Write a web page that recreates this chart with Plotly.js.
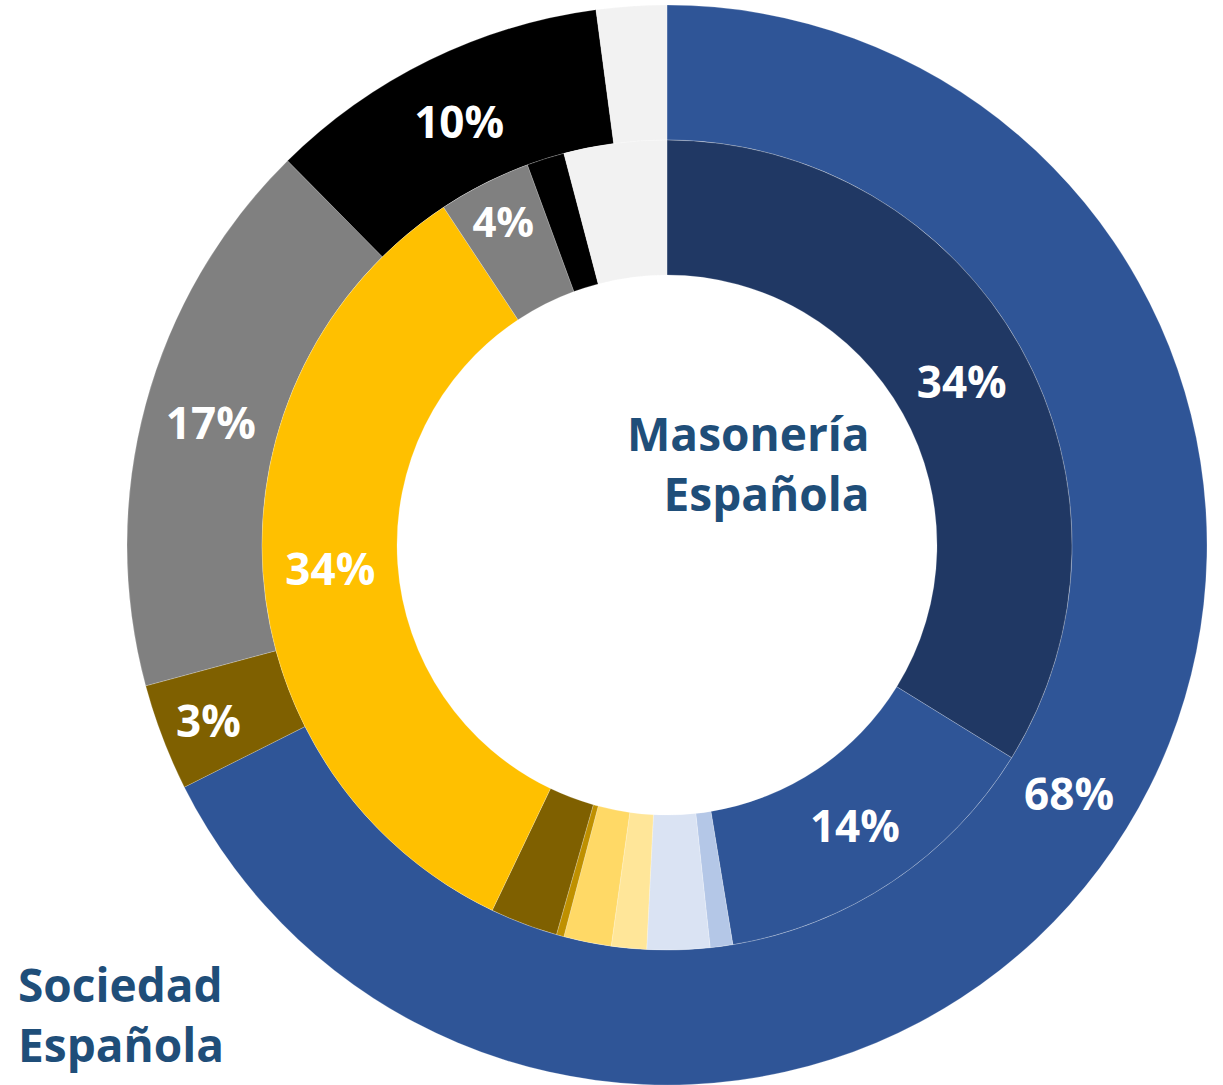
<!DOCTYPE html>
<html>
<head>
<meta charset="utf-8">
<script src="https://cdn.plot.ly/plotly-3.0.1.min.js"></script>
<style>
  html, body { margin: 0; padding: 0; background: #fff; }
  #chart { width: 1223px; height: 1085px; }
</style>
</head>
<body>
<div id="chart"></div>
<script>
// Outer ring: Sociedad Española
const outerLabels = ["Azul", "Marrón", "Gris", "Negro", "Sin dato"];
const outerValues = [67.6, 3.2, 16.8, 10.3, 2.1];
const outerColors = ["#2F5597", "#7F6000", "#808080", "#000000", "#F2F2F2"];

// Inner ring: Masonería Española
const innerLabels = ["Azul oscuro", "Azul", "Azul claro", "Azul muy claro", "Amarillo muy claro",
                     "Amarillo claro", "Oro oscuro", "Marrón", "Oro", "Gris", "Negro", "Sin dato"];
const innerValues = [33.8, 13.6, 0.9, 2.5, 1.4, 1.9, 0.3, 2.7, 33.6, 3.7, 1.5, 4.1];
const innerColors = ["#203864", "#2F5597", "#B4C7E7", "#DAE3F3", "#FFE699",
                     "#FFD966", "#BF9000", "#7F6000", "#FFC000", "#808080", "#000000", "#F2F2F2"];

const FONT = "'Open Sans', 'DejaVu Sans', sans-serif";

// only the bigger slices carry a label, never the "Sin dato" slice
function pctText(labels, values) {
    return values.map((v, i) => (v >= 3 && labels[i] !== 'Sin dato') ? Math.round(v) + '%' : '');
}

const W = 1223, H = 1085;

const outer = {
    type: 'pie',
    labels: outerLabels,
    values: outerValues,
    text: pctText(outerLabels, outerValues),
    textinfo: 'text',
    textposition: 'inside',
    insidetextorientation: 'horizontal',
    textfont: { family: FONT, size: 44, color: '#ffffff', weight: 'bold' },
    marker: { colors: outerColors, line: { color: 'rgba(255,255,255,0.35)', width: 0.6 } },
    hole: 0.75,
    sort: false,
    direction: 'clockwise',
    rotation: 0,
    hoverinfo: 'none',
    domain: { x: [127 / W, 1207 / W], y: [0, 1080 / H] }
};

const inner = {
    type: 'pie',
    labels: innerLabels,
    values: innerValues,
    text: pctText(innerLabels, innerValues),
    textinfo: 'text',
    textposition: 'inside',
    insidetextorientation: 'horizontal',
    textfont: { family: FONT, size: 44, color: '#ffffff', weight: 'bold' },
    marker: { colors: innerColors, line: { color: 'rgba(255,255,255,0.35)', width: 0.6 } },
    hole: 270 / 405,
    sort: false,
    direction: 'clockwise',
    rotation: 0,
    hoverinfo: 'none',
    domain: { x: [262 / W, 1072 / W], y: [1 - 950 / H, 1 - 140 / H] }
};

const layout = {
    width: W,
    height: H,
    margin: { t: 0, b: 0, l: 0, r: 0 },
    showlegend: false,
    paper_bgcolor: '#ffffff',
    font: { family: FONT },
    annotations: [
        {
            text: 'Masonería<br>Española',
            xref: 'paper', yref: 'paper',
            x: 872 / W, y: 1 - 463 / H,
            xanchor: 'right', yanchor: 'middle', align: 'right',
            showarrow: false,
            font: { family: FONT, size: 46, color: '#1F4E79', weight: 'bold' }
        },
        {
            text: 'Sociedad<br>Española',
            xref: 'paper', yref: 'paper',
            x: 16 / W, y: 1 - 1014 / H,
            xanchor: 'left', yanchor: 'middle', align: 'left',
            showarrow: false,
            font: { family: FONT, size: 46, color: '#1F4E79', weight: 'bold' }
        }
    ]
};

Plotly.newPlot('chart', [outer, inner], layout, { displayModeBar: false, staticPlot: true });
</script>
</body>
</html>
